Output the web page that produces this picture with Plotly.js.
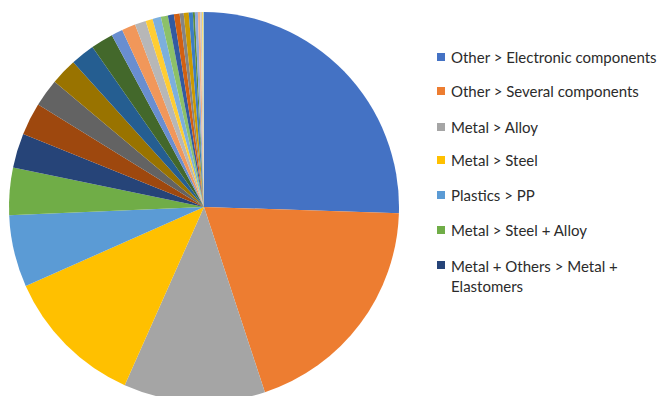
<!DOCTYPE html>
<html>
<head>
<meta charset="utf-8">
<script src="https://cdn.plot.ly/plotly-3.0.1.min.js"></script>
<style>
html, body { margin: 0; padding: 0; overflow: hidden; background: #fff; }
#chart { width: 657px; height: 410px; }
</style>
</head>
<body>
<div id="chart"></div>
<script>
// Slice labels (only first seven appear in the legend of the reference)
const labels = [
  "Other > Electronic components",
  "Other > Several components",
  "Metal > Alloy",
  "Metal > Steel",
  "Plastics > PP",
  "Metal > Steel + Alloy",
  "Metal + Others > Metal + Elastomers",
  "Category 8", "Category 9", "Category 10", "Category 11", "Category 12",
  "Category 13", "Category 14", "Category 15", "Category 16", "Category 17",
  "Category 18", "Category 19", "Category 20", "Category 21", "Category 22",
  "Category 23", "Category 24", "Category 25", "Category 26", "Category 27",
  "Category 28", "Category 29", "Category 30"
];
// Slice shares (read as angles in degrees from the picture)
const values = [
  91.8, 70.0, 42.2, 42.1, 21.5, 14.1, 10.3,
  9.7, 8.3, 7.9, 7.2, 6.7,
  3.4, 4.1, 3.3, 2.1, 2.5, 2.1,
  1.8, 1.7, 1.2, 1.5, 1.2, 0.6,
  0.9, 0.7, 0.5, 0.3, 0.2, 0.1
];
const colors = [
  "#4472C4", "#ED7D31", "#A5A5A5", "#FFC000", "#5B9BD5", "#70AD47",
  "#264478", "#9E480E", "#636363", "#997300", "#255E91", "#43682B",
  "#698ED0", "#F1975A", "#B7B7B7", "#FFCD33", "#7CAFDD", "#8CC168",
  "#335AA1", "#D26012", "#848484", "#CC9A00", "#3C7DC4", "#5A8A39",
  "#8FAADC", "#F4B183", "#C9C9C9", "#FFD966", "#9DC3E6", "#A9D18E"
];
const legendCount = 7;
const legendText = [
  "Other > Electronic components",
  "Other > Several components",
  "Metal > Alloy",
  "Metal > Steel",
  "Plastics > PP",
  "Metal > Steel + Alloy",
  "Metal + Others > Metal +<br>Elastomers"
];

const W = 657, H = 410;
const px = x => x / W;
const py = y => 1 - y / H;

const cx = 204, cy = 207, r = 195;

const rowY = [57, 91, 127, 160, 195, 230, 265];
const shapes = [];
const annotations = [];
for (let i = 0; i < legendCount; i++) {
  const y = rowY[i];
  shapes.push({
    type: "rect", xref: "paper", yref: "paper",
    x0: px(437), x1: px(445), y0: py(y - 4), y1: py(y + 4),
    fillcolor: colors[i], line: { width: 0 }
  });
  annotations.push({
    xref: "paper", yref: "paper",
    x: px(449), y: py(i === legendCount - 1 ? y - 10 : y),
    xanchor: "left", yanchor: i === legendCount - 1 ? "top" : "middle",
    align: "left",
    text: legendText[i],
    showarrow: false,
    font: { family: "Lato, 'Open Sans', sans-serif", size: 15, color: "#2b2b2b" }
  });
}

const trace = {
  type: "pie",
  labels: labels,
  values: values,
  sort: false,
  direction: "clockwise",
  rotation: 0,
  textinfo: "none",
  hoverinfo: "label+percent",
  showlegend: false,
  marker: { colors: colors, line: { width: 0 } },
  domain: { x: [px(cx - r), px(cx + r)], y: [py(cy + r), py(cy - r)] }
};

const layout = {
  width: W, height: H,
  margin: { l: 0, r: 0, t: 0, b: 0 },
  paper_bgcolor: "#ffffff",
  showlegend: false,
  shapes: shapes,
  annotations: annotations
};

Plotly.newPlot("chart", [trace], layout, { staticPlot: true, displayModeBar: false });
</script>
</body>
</html>
